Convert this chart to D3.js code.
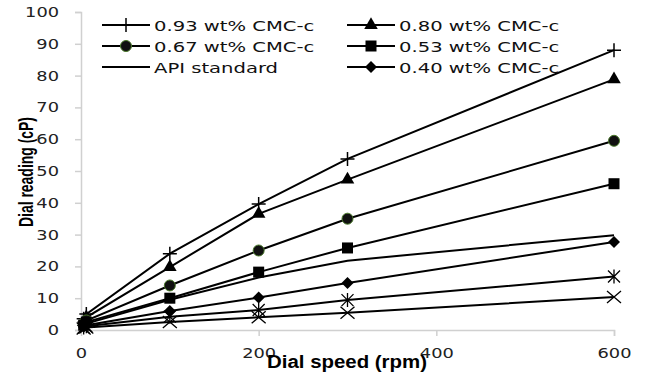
<!DOCTYPE html>
<html><head><meta charset="utf-8">
<script src="https://cdn.jsdelivr.net/npm/d3@7"></script>
<style>body{margin:0;background:#fff}svg{display:block}</style>
</head><body>
<svg id="c" width="645" height="374"></svg>
<script>
const speeds = [3, 6, 100, 200, 300, 600];
const xTicks = [0, 200, 400, 600];
const yTicks = [0,10,20,30,40,50,60,70,80,90,100];
const s093 = [3.5, 5, 24, 39.6, 53.8, 88];
const s080 = [2.5, 4, 19.8, 36.5, 47.3, 78.8];
const s067 = [2, 3, 14, 25, 35, 59.5];
const s053 = [1.5, 2.5, 10, 18.2, 25.8, 46];
const sAPI = [1, 2, 9.5, 16.5, 21.8, 29.8];
const s040 = [1, 1.5, 6, 10.2, 14.8, 27.7];
const sStar = [0.8, 1.2, 4.2, 6.3, 9.4, 16.8];
const sX = [0.5, 0.8, 2.5, 4, 5.4, 10.4];
const names = ["0.93 wt% CMC-c","0.80 wt% CMC-c","0.67 wt% CMC-c","0.53 wt% CMC-c","API standard","0.40 wt% CMC-c","",""];
const markers = ["plus","triangle","circle","square","none","diamond","star","cross"];
const allSeries = [s093, s080, s067, s053, sAPI, s040, sStar, sX];

const svg = d3.select("#c");
const x = d3.scaleLinear().domain([0,600]).range([81,614]);
const y = d3.scaleLinear().domain([0,100]).range([330,12]);
const tickFont = "'DejaVu Sans', Verdana, sans-serif";

function stretch(sel, factor){
  sel.each(function(){
    const n = this.getComputedTextLength();
    d3.select(this).attr("textLength", n*factor).attr("lengthAdjust","spacingAndGlyphs");
  });
}

// axes
const gy = svg.append("g").attr("transform","translate(81,0)")
  .call(d3.axisLeft(y).tickValues(yTicks).tickSize(6).tickPadding(16));
const gx = svg.append("g").attr("transform","translate(0,330)")
  .call(d3.axisBottom(x).tickValues(xTicks).tickSize(6).tickPadding(12));
[gy,gx].forEach(g=>{
  g.select(".domain").attr("stroke","#d0d0d0").attr("stroke-width",1.5);
  g.selectAll(".tick line").attr("stroke","#d0d0d0").attr("stroke-width",1.5);
  g.selectAll(".tick text").attr("font-family",tickFont).attr("font-size",14).attr("fill","#222");
  stretch(g.selectAll(".tick text"), 1.27);
});
gx.selectAll(".tick").filter(d=>d===0).select("line").remove();

// axis titles
svg.append("text").attr("x",347).attr("y",368).attr("text-anchor","middle")
  .attr("font-family","'Liberation Sans Narrow','Liberation Sans',Arial,sans-serif")
  .attr("font-weight","bold").attr("font-size",18)
  .attr("textLength",160).attr("lengthAdjust","spacingAndGlyphs").text("Dial speed (rpm)");
svg.append("text").attr("transform","translate(33,172) rotate(-90)").attr("text-anchor","middle")
  .attr("font-family","'Liberation Sans Narrow','Liberation Sans',Arial,sans-serif")
  .attr("font-weight","bold").attr("font-size",19.5)
  .attr("textLength",110).attr("lengthAdjust","spacingAndGlyphs").text("Dial reading (cP)");

function drawMarker(g, type, cx, cy){
  const c = "#000";
  if(type==="plus"){
    g.append("path").attr("d",`M${cx-7},${cy}H${cx+7}M${cx},${cy-7}V${cy+7}`).attr("stroke",c).attr("stroke-width",1.5);
  } else if(type==="triangle"){
    g.append("path").attr("d",d3.symbol(d3.symbolTriangle,80)()).attr("transform",`translate(${cx},${cy})`).attr("fill",c);
  } else if(type==="circle"){
    g.append("circle").attr("cx",cx).attr("cy",cy).attr("r",5.5).attr("fill","#111").attr("stroke","#4a7a2a").attr("stroke-width",1);
  } else if(type==="square"){
    g.append("rect").attr("x",cx-5.5).attr("y",cy-5.5).attr("width",11).attr("height",11).attr("fill",c);
  } else if(type==="diamond"){
    g.append("path").attr("d",`M${cx},${cy-6}L${cx+6},${cy}L${cx},${cy+6}L${cx-6},${cy}Z`).attr("fill",c);
  } else if(type==="star"){
    g.append("path").attr("d",`M${cx-6},${cy-6}L${cx+6},${cy+6}M${cx-6},${cy+6}L${cx+6},${cy-6}M${cx},${cy-7}V${cy+7}`).attr("stroke",c).attr("stroke-width",1.3);
  } else if(type==="cross"){
    g.append("path").attr("d",`M${cx-7},${cy-6}L${cx+7},${cy+6}M${cx-7},${cy+6}L${cx+7},${cy-6}`).attr("stroke",c).attr("stroke-width",1.3);
  }
}

const line = d3.line().x(d=>x(d[0])).y(d=>y(d[1]));
allSeries.forEach((vals,i)=>{
  const pts = speeds.map((s,j)=>[s,vals[j]]);
  const g = svg.append("g");
  g.append("path").attr("d",line(pts)).attr("fill","none").attr("stroke","#000").attr("stroke-width",2);
  if(markers[i]!=="none") pts.forEach(p=>drawMarker(g,markers[i],x(p[0]),y(p[1])));
});

// legend
const legPos = [[102,25],[347,25],[102,46],[347,46],[102,67],[347,67]];
for(let i=0;i<6;i++){
  const [lx,ly] = legPos[i];
  const g = svg.append("g");
  g.append("line").attr("x1",lx).attr("x2",lx+48).attr("y1",ly).attr("y2",ly).attr("stroke","#000").attr("stroke-width",2);
  if(markers[i]!=="none") drawMarker(g,markers[i],lx+24,ly);
  const t = g.append("text").attr("x",lx+52).attr("y",ly+5.5).attr("font-family",tickFont).attr("font-size",13.5).attr("fill","#111").text(names[i]);
  stretch(t, 1.45);
}
</script>
</body></html>
